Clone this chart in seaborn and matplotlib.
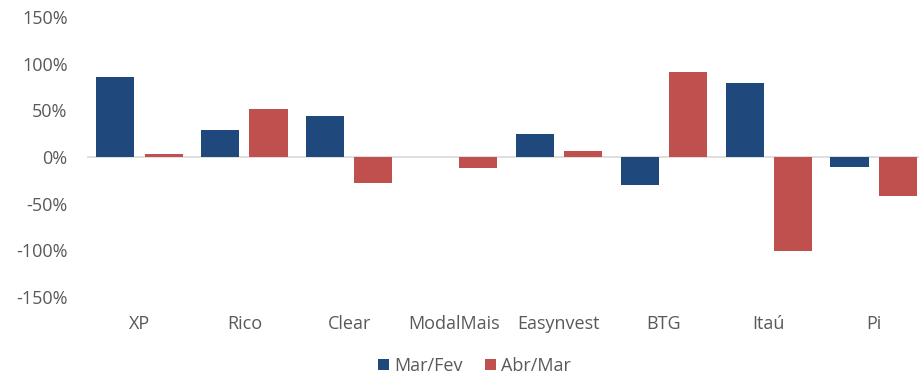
import numpy as np
import pandas as pd
import seaborn as sns
import matplotlib.pyplot as plt
from matplotlib.ticker import FuncFormatter

corretoras = ['XP', 'Rico', 'Clear', 'ModalMais', 'Easynvest', 'BTG', 'Itaú', 'Pi']
mar_fev = [85.7, 29.3, 43.6, 0.0, 24.3, -29.6, 79.0, -10.3]
abr_mar = [3.6, 51.1, -27.9, -11.4, 6.8, 90.7, -101.0, -42.1]
series = ['Mar/Fev', 'Abr/Mar']
cores = ['#1f487c', '#c0504d']

df = pd.DataFrame({'Corretora': corretoras * 2,
                   'Periodo': [series[0]] * len(corretoras) + [series[1]] * len(corretoras),
                   'Variacao': mar_fev + abr_mar})

sns.set_style('white')
plt.rcParams['font.family'] = ['Open Sans', 'DejaVu Sans']

fig = plt.figure(figsize=(9.2, 3.75), dpi=100)
ax = fig.add_axes([0.0946, 0.208, 0.912, 0.747])
sns.barplot(data=df, x='Corretora', y='Variacao', hue='Periodo', palette=cores,
            width=0.92, gap=0.21, ax=ax, saturation=1, linewidth=0)

ax.axhline(0, color='#d9d9d9', lw=1.2, zorder=0)
ax.set_ylim(-150, 150)
ax.set_yticks(np.arange(-150, 151, 50))
ax.yaxis.set_major_formatter(FuncFormatter(lambda v, p: f'{v:.0f}%'))
ax.set_xlim(-0.5, len(corretoras) - 0.5)
ax.set_xlabel('')
ax.set_ylabel('')
ax.tick_params(axis='both', length=0, labelsize=13, colors='#595959')
ax.tick_params(axis='y', pad=14)
ax.tick_params(axis='x', pad=13)
sns.despine(ax=ax, left=True, bottom=True)

ax.legend(loc='center', bbox_to_anchor=(0.462, -0.246), ncol=2, frameon=False,
          fontsize=13, labelcolor='#595959', handlelength=0.6, handleheight=0.6,
          handletextpad=0.3, columnspacing=1.2)

fig.savefig('out.png', dpi=100)
